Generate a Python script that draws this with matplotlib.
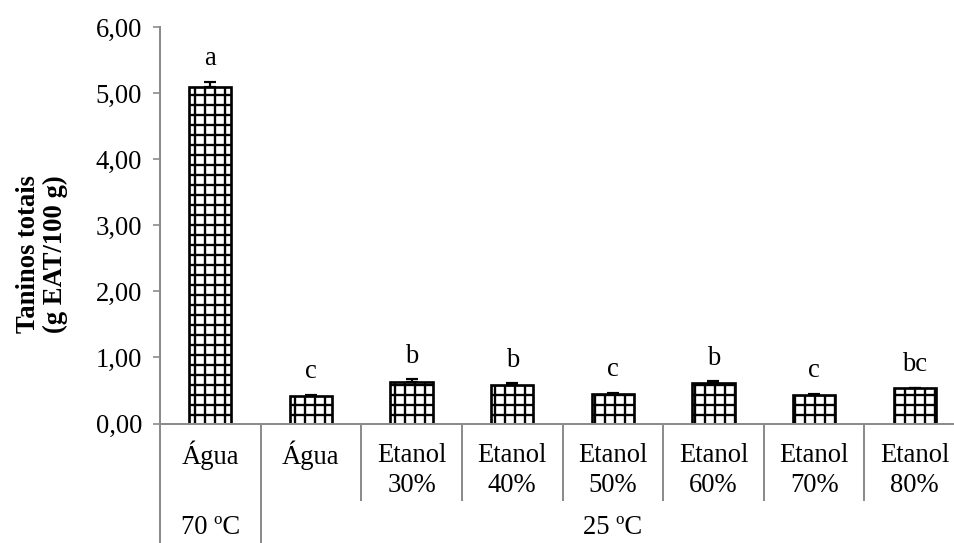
import matplotlib
matplotlib.use("Agg")
import matplotlib.pyplot as plt
from matplotlib.ticker import FuncFormatter

# Extraction results: total tannins (g EAT/100 g)
categories = ["Água", "Água", "Etanol\n30%", "Etanol\n40%", "Etanol\n50%",
              "Etanol\n60%", "Etanol\n70%", "Etanol\n80%"]
means = [5.09, 0.42, 0.63, 0.58, 0.45, 0.61, 0.43, 0.53]
errors = [0.08, 0.01, 0.04, 0.03, 0.01, 0.03, 0.02, 0.01]
letters = ["a", "c", "b", "b", "c", "b", "c", "bc"]
temperatures = ["70 ºC", "25 ºC"]
temp_groups = [(0, 1), (1, 8)]
yticks = [0, 1, 2, 3, 4, 5, 6]

DPI = 120
FS = 16
plt.rcParams["font.family"] = ["Liberation Serif", "DejaVu Serif"]
plt.rcParams["hatch.linewidth"] = 1.4
plt.rcParams["hatch.color"] = "black"

fig = plt.figure(figsize=(954 / DPI, 543 / DPI), dpi=DPI)
W, H = 954, 543
x0, x1 = 160, 965
y0, y1 = 423.5, 27
ax = fig.add_axes([x0 / W, (H - y0) / H, (x1 - x0) / W, (y0 - y1) / H])

gray = "#8c8c8c"
xs = [i + 0.5 for i in range(len(means))]
ax.bar(xs, means, width=0.42, color="white", edgecolor="black",
       linewidth=1.6, hatch="++", zorder=2)
ax.errorbar(xs, means, yerr=[[0] * len(errors), errors], fmt="none",
            ecolor="black", elinewidth=1.3, capsize=3.8, capthick=1.3, zorder=3)

for x, m, e, t in zip(xs, means, errors, letters):
    ax.annotate(t, (x, m + e), xytext=(0, 10), textcoords="offset points",
                ha="center", va="baseline", fontsize=FS)

ax.set_xlim(0, 8)
ax.set_ylim(0, 6)
ax.set_yticks(yticks)
ax.yaxis.set_major_formatter(FuncFormatter(lambda v, p: f"{v:.2f}".replace(".", ",")))
ax.tick_params(axis="y", direction="out", length=4.2, width=1, color=gray,
               labelsize=FS, pad=6.5)
ax.set_xticks([])
for s in ("top", "right"):
    ax.spines[s].set_visible(False)
for s in ("left", "bottom"):
    ax.spines[s].set_color(gray)
    ax.spines[s].set_linewidth(1.2)

# Category table below the axis
ax_h = y0 - y1
def ay(py):
    return (y0 - py) / ax_h

trans = ax.get_xaxis_transform()
ax.plot([0, 0], [0, ay(H)], transform=trans, color=gray, lw=1.2, clip_on=False)
for g_start, g_end in temp_groups[1:]:
    ax.plot([g_start, g_start], [0, ay(H)], transform=trans, color=gray,
            lw=1.2, clip_on=False)
for i in range(2, len(means)):
    ax.plot([i, i], [0, ay(500)], transform=trans, color=gray, lw=1.2,
            clip_on=False)

line_y = [455, 486]
for x, lab in zip(xs, categories):
    for k, part in enumerate(lab.split("\n")):
        ax.text(x, ay(line_y[k]), part, transform=trans, ha="center",
                va="center", fontsize=FS)

for (g_start, g_end), t in zip(temp_groups, temperatures):
    ax.text((g_start + g_end) / 2, ay(527), t, transform=trans,
            ha="center", va="center", fontsize=FS)

fig.text(42 / W, (H - 254) / H, "Taninos totais\n(g EAT/100 g)", rotation=90,
         ha="center", va="center", fontsize=FS, fontweight="bold",
         linespacing=1.05)

fig.savefig("out.png", dpi=DPI)
